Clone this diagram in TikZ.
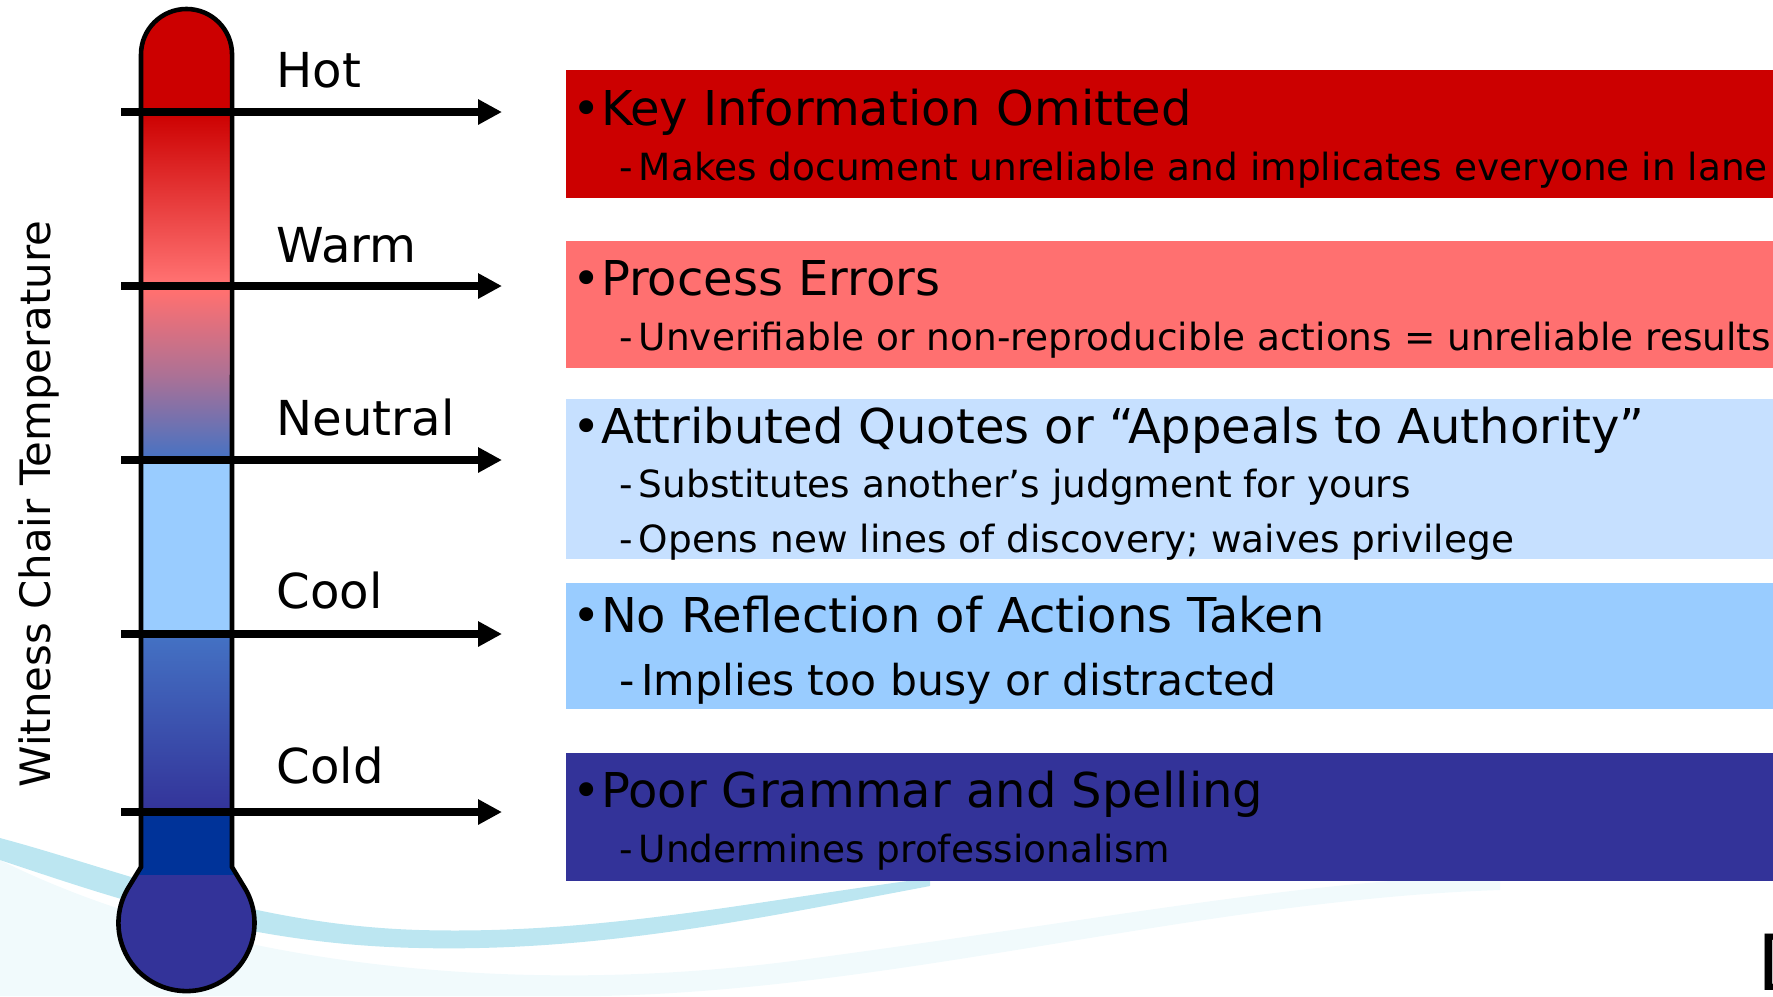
\documentclass[tikz,border=0pt]{standalone}
\usepackage{fontspec}
\setmainfont{DejaVu Sans}
\usetikzlibrary{arrows.meta}
\definecolor{hotred}{HTML}{CC0000}
\definecolor{warmred}{HTML}{FF7070}
\definecolor{neutralblue}{HTML}{4472C4}
\definecolor{paleblue}{HTML}{C6E0FF}
\definecolor{coolblue}{HTML}{99CCFF}
\definecolor{coldblue}{HTML}{333399}
\definecolor{stemblue}{HTML}{003399}
\definecolor{swoosh}{HTML}{9FDCEB}

\begin{document}
\begin{tikzpicture}[x=0.01cm,y=0.01cm
  ,box/.style={fill=#1,draw=none,inner sep=0pt,anchor=north west,minimum width=12.08cm}
  ,headline/.style={anchor=base west,inner sep=0pt,font=\fontsize{13.65pt}{16pt}\selectfont}
  ,subline/.style={anchor=base west,inner sep=0pt,font=\fontsize{10.65pt}{12pt}\selectfont}
  ,lbl/.style={anchor=base west,inner sep=0pt,font=\fontsize{13.7pt}{16pt}\selectfont}
  ,level/.style={line width=2.1pt,-{Triangle[length=6.8pt,width=6.8pt]}}]
\useasboundingbox (0,0) rectangle (1773,-996);
% background swoosh
\fill[swoosh!15] (0,-860) .. controls (200,-960) and (500,-1000) .. (800,-960)
  .. controls (1100,-920) and (1300,-880) .. (1500,-875) -- (1500,-890)
  .. controls (1200,-900) and (900,-990) .. (600,-996) -- (0,-996) -- cycle;
\fill[swoosh,opacity=.7] (0,-838) .. controls (120,-870) and (250,-925) .. (420,-930)
  .. controls (600,-935) and (760,-900) .. (930,-878) -- (930,-886)
  .. controls (760,-918) and (600,-952) .. (420,-948)
  .. controls (250,-945) and (120,-900) .. (0,-860) -- cycle;

% thermometer
\begin{scope}
  \clip (141,-867) -- (141,-54.5) arc (180:0:0.455cm) -- (232,-867) -- (245.2,-888.7)
    arc (30.3:-210.3:0.68cm) -- cycle;
  \fill[hotred] (100,0) rectangle (280,-112);
  \shade[top color=hotred,bottom color=warmred] (100,-112) rectangle (280,-280);
  \fill[warmred] (100,-280) rectangle (280,-292);
  \shade[top color=warmred,bottom color=neutralblue,middle color=warmred!55!neutralblue]
    (100,-292) rectangle (280,-460);
  \fill[coolblue] (100,-460) rectangle (280,-634);
  \shade[top color=neutralblue,bottom color=coldblue] (100,-634) rectangle (280,-812);
  \fill[stemblue] (100,-812) rectangle (280,-875);
  \fill[coldblue] (100,-875) rectangle (280,-1000);
\end{scope}
\draw[line width=1.3pt] (141,-867) -- (141,-54.5) arc (180:0:0.455cm) -- (232,-867)
  -- (245.2,-888.7) arc (30.3:-210.3:0.68cm) -- cycle;

\node (axis) [rotate=90,anchor=base,inner sep=0pt,font=\fontsize{11.9pt}{14pt}\selectfont]
  at (51,-504) {Witness Chair Temperature};

% levels
\coordinate (hot-a) at (121,-112);     \coordinate (hot-b) at (502,-112);
\coordinate (warm-a) at (121,-286);    \coordinate (warm-b) at (502,-286);
\coordinate (neutral-a) at (121,-460); \coordinate (neutral-b) at (502,-460);
\coordinate (cool-a) at (121,-634);    \coordinate (cool-b) at (502,-634);
\coordinate (cold-a) at (121,-812);    \coordinate (cold-b) at (502,-812);
\path[level]
  (hot-a) edge (hot-b)
  (warm-a) edge (warm-b)
  (neutral-a) edge (neutral-b)
  (cool-a) edge (cool-b)
  (cold-a) edge (cold-b)
  ;
\node (hot) [lbl] at (276,-87) {Hot};
\node (warm) [lbl] at (276,-262) {Warm};
\node (neutral) [lbl] at (276,-435) {Neutral};
\node (cool) [lbl] at (276,-608) {Cool};
\node (cold) [lbl] at (276,-783) {Cold};

% boxes
\node (kio) [box=hotred,minimum height=1.28cm] at (565,-69) {};
\node (perr) [box=warmred,minimum height=1.27cm] at (565,-240) {};
\node (aq) [box=paleblue,minimum height=1.60cm] at (565,-398) {};
\node (nra) [box=coolblue,minimum height=1.26cm] at (565,-582) {};
\node (pgs) [box=coldblue,minimum height=1.28cm] at (565,-752) {};

\node (kio-h) [headline] at (572,-125) {•Key Information Omitted};
\node (kio-s) [subline] at (619,-180) {-\hspace{.15em}Makes document unreliable and implicates everyone in lane};
\node (perr-h) [headline] at (572,-295) {•Process Errors};
\node (perr-s) [subline] at (619,-350) {-\hspace{.15em}Unverifiable or non-reproducible actions = unreliable results};
\node (aq-h) [headline] at (572,-443) {•Attributed Quotes or “Appeals to Authority”};
\node (aq-s1) [subline] at (619,-497) {-\hspace{.15em}Substitutes another’s judgment for yours};
\node (aq-s2) [subline] at (619,-552) {-\hspace{.15em}Opens new lines of discovery; waives privilege};
\node (nra-h) [headline] at (572,-632) {•No Reflection of Actions Taken};
\node (nra-s) [subline,font=\fontsize{12.1pt}{14pt}\selectfont] at (619,-695) {-\hspace{.15em}Implies too busy or distracted};
\node (pgs-h) [headline] at (572,-807) {•Poor Grammar and Spelling};
\node (pgs-s) [subline] at (619,-862) {-\hspace{.15em}Undermines professionalism};

\node (corner) [anchor=north west,inner sep=0pt,font=\fontsize{22pt}{24pt}\selectfont] at (1757,-933) {D};
\end{tikzpicture}
\end{document}
